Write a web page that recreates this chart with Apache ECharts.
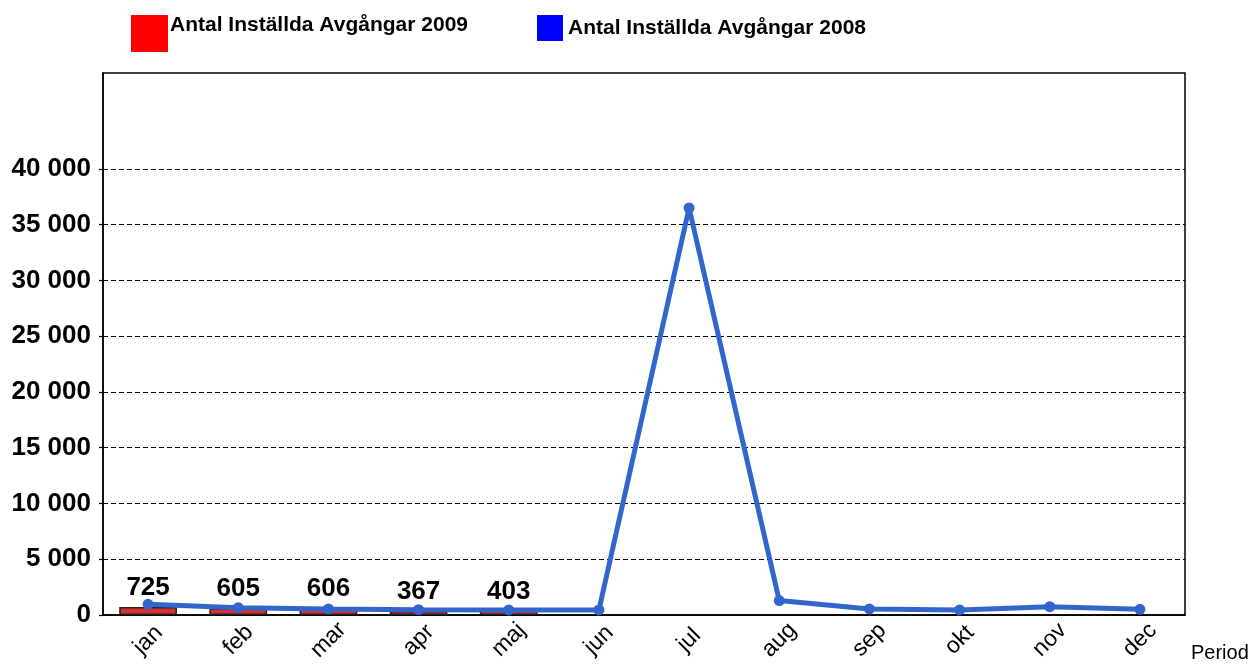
<!DOCTYPE html>
<html>
<head>
<meta charset="utf-8">
<script src="https://cdn.jsdelivr.net/npm/echarts@6/dist/echarts.min.js"></script>
<style>
  html, body { margin: 0; padding: 0; background: #fff; }
  #chart { width: 1258px; height: 670px; }
</style>
</head>
<body>
<div id="chart"></div>
<script>
// månader
var months = ['jan', 'feb', 'mar', 'apr', 'maj', 'jun', 'jul', 'aug', 'sep', 'okt', 'nov', 'dec']
// inställda avgångar 2009 (staplar)
var cancelled2009 = [725, 605, 606, 367, 403]
// inställda avgångar 2008 (linje)
var cancelled2008 = [960, 660, 540, 480, 450, 450, 36500, 1290, 540, 450, 750, 510]
// y-axelns etiketter
var yTicks = [0, 5000, 10000, 15000, 20000, 25000, 30000, 35000, 40000]

var name2009 = 'Antal Inställda Avgångar 2009'
var name2008 = 'Antal Inställda Avgångar 2008'

function fmt(v) {
  return String(v).replace(/\B(?=(\d{3})+(?!\d))/g, ' ')
}

var font = 'Liberation Sans, Arial, sans-serif'
var chart = echarts.init(document.getElementById('chart'))
var legendText = { color: '#000', fontSize: 21, fontWeight: 'bold', fontFamily: font }

chart.setOption({
  backgroundColor: '#fff',
  animation: false,
  legend: [
    {
      left: 126,
      top: 10,
      itemWidth: 37,
      itemHeight: 37,
      icon: 'rect',
      // texten ligger högre än den röda rutan
      formatter: function (name) { return name + '\n ' },
      textStyle: Object.assign({ lineHeight: 16, padding: [0, 0, 0, -3] }, legendText),
      data: [{ name: name2009, itemStyle: { color: '#ff0000', borderWidth: 0 } }]
    },
    {
      left: 532,
      top: 10,
      itemWidth: 26,
      itemHeight: 26,
      icon: 'rect',
      textStyle: legendText,
      data: [{ name: name2008, itemStyle: { color: '#0000ff', borderWidth: 0 } }]
    }
  ],
  grid: {
    left: 103,
    right: 73,
    top: 73,
    bottom: 55,
    show: true,
    borderColor: '#000',
    borderWidth: 1.5
  },
  xAxis: {
    type: 'category',
    data: months,
    name: 'Period',
    nameLocation: 'end',
    nameGap: 6,
    nameTextStyle: { fontSize: 20, color: '#000', fontFamily: font, verticalAlign: 'top', padding: [28, 0, 0, 0] },
    axisLine: { lineStyle: { color: '#000', width: 1.5 } },
    axisTick: { show: false },
    axisLabel: {
      rotate: 45,
      align: 'center',
      verticalAlign: 'middle',
      margin: 25,
      fontSize: 23,
      color: '#000',
      fontFamily: font
    }
  },
  yAxis: {
    type: 'value',
    min: 0,
    max: 48600,
    interval: 5000,
    axisLine: { show: true, lineStyle: { color: '#000', width: 1.5 } },
    axisTick: { show: true, length: 4, customValues: yTicks, lineStyle: { color: '#000', width: 1.2 } },
    axisLabel: {
      fontSize: 26,
      fontWeight: 'bold',
      color: '#000',
      margin: 12,
      fontFamily: font,
      formatter: function (v) { return v > 40000 ? '' : fmt(v) }
    },
    splitLine: {
      show: true,
      lineStyle: {
        type: [5, 3],
        width: 1.2,
        color: ['#000', '#000', '#000', '#000', '#000', '#000', '#000', '#000', '#000', 'rgba(0,0,0,0)', '#000']
      }
    }
  },
  series: [
    {
      name: name2009,
      type: 'bar',
      data: cancelled2009,
      barWidth: '64%',
      itemStyle: { color: '#d93030', borderColor: '#222', borderWidth: 1.5 },
      label: {
        show: true,
        position: 'top',
        distance: 6,
        fontSize: 26,
        fontWeight: 'bold',
        color: '#000',
        fontFamily: font
      },
      z: 2
    },
    {
      name: name2008,
      type: 'line',
      data: cancelled2008,
      symbol: 'circle',
      symbolSize: 11,
      lineStyle: { color: '#3366cc', width: 5 },
      itemStyle: { color: '#3366cc' },
      z: 3
    }
  ]
})
</script>
</body>
</html>
